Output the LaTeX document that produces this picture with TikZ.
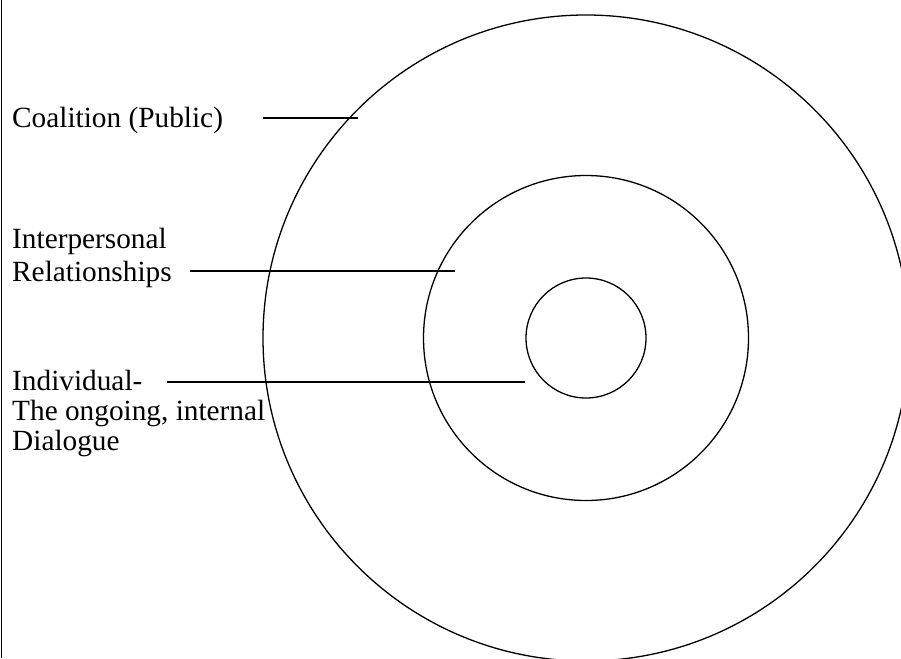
\documentclass[tikz,border=0pt]{standalone}
\usepackage{fontspec}
\setmainfont{Liberation Serif}
\begin{document}
\begin{tikzpicture}[x=1pt,y=-1pt,
  ring/.style={draw=black,line width=1.3pt,circle,inner sep=0pt,minimum size=#1},
  lbl/.style={anchor=base west,inner sep=0pt,font=\fontsize{29.3}{#1}\selectfont,align=left},
  leader/.style={line width=1.3pt}]
\useasboundingbox (0,0) rectangle (901,658);
\clip (0,0) rectangle (901,658);
\draw[line width=1.5pt] (1.5,0) -- (1.5,658);
\node[ring=646pt] (outer) at (586,338) {};
\node[ring=325pt] (middle) at (586,338) {};
\node[ring=120pt] (inner) at (586,338) {};
\node[lbl=33] (coal) at (12,127) {Coalition (Public)};
\node[lbl=33] (inter) at (12,281) {Interpersonal\\Relationships};
\node[lbl=30] (indiv) at (12,450) {Individual-\\The ongoing, internal\\Dialogue};
\coordinate (c1) at (263,118);
\coordinate (c2) at (358,118);
\coordinate (i1) at (190,271);
\coordinate (i2) at (455,271);
\coordinate (d1) at (167,382);
\draw[leader] (c1) -- (c2);
\draw[leader] (i1) -- (i2);
\draw[leader] (d1) -- (inner.west |- d1);
\end{tikzpicture}
\end{document}
